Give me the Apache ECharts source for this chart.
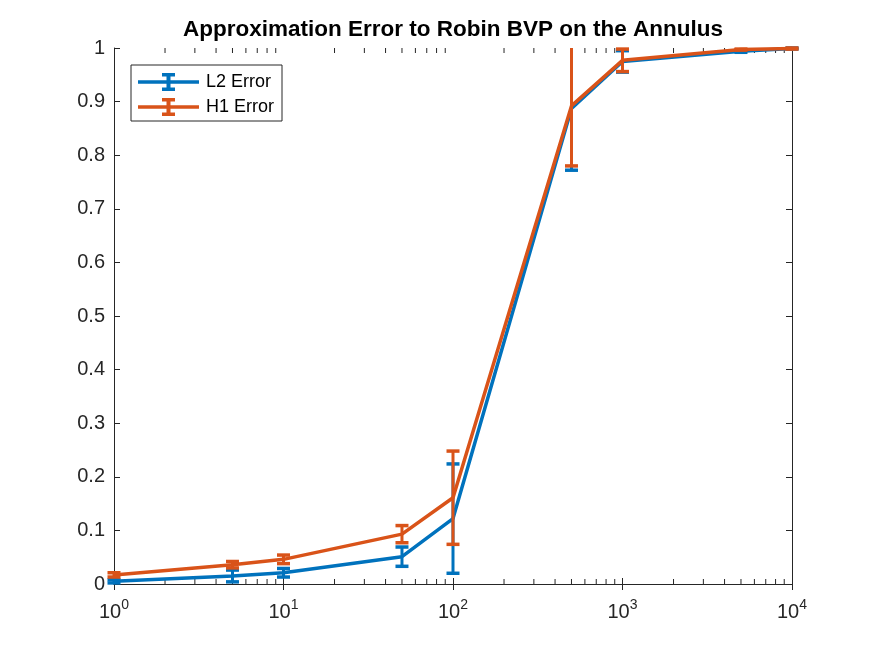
<!DOCTYPE html>
<html>
<head>
<meta charset="utf-8">
<script src="https://cdn.jsdelivr.net/npm/echarts@6/dist/echarts.min.js"></script>
<style>
  html, body { margin: 0; padding: 0; background: #fff; }
  #chart { width: 875px; height: 656px; }
</style>
</head>
<body>
<div id="chart"></div>
<script>
// 数据：Robin BVP 逼近误差（对数横轴）
const xValues = [1, 5, 10, 50, 100, 500, 1000, 5000, 10000];
const l2Mean = [0.005, 0.015, 0.021, 0.051, 0.122, 0.887, 0.975, 0.994, 0.999];
const l2Err = [0.003, 0.011, 0.008, 0.018, 0.102, 0.115, 0.020, 0.002, 0.001];
const h1Mean = [0.017, 0.036, 0.046, 0.093, 0.161, 0.892, 0.977, 0.997, 0.999];
const h1Err = [0.004, 0.006, 0.008, 0.016, 0.087, 0.112, 0.021, 0.001, 0.001];
const yTicks = [0, 0.1, 0.2, 0.3, 0.4, 0.5, 0.6, 0.7, 0.8, 0.9, 1];
const minorTicks = [2, 3, 4, 5, 6, 7, 8, 9, 20, 30, 40, 50, 60, 70, 80, 90,
  200, 300, 400, 500, 600, 700, 800, 900, 2000, 3000, 4000, 5000, 6000, 7000, 8000, 9000];

const BLUE = '#0072BD';
const ORANGE = '#D95319';
const AXIS = '#262626';
const FONT = 'Liberation Sans, Arial, Helvetica, sans-serif';

const chart = echarts.init(document.getElementById('chart'));

function errorBarItem(color) {
  return (params, api) => {
    const cs = params.coordSys;
    const x = api.value(0);
    const lo = api.coord([x, api.value(1)]);
    const hi = api.coord([x, api.value(2)]);
    const top = cs.y, bottom = cs.y + cs.height;
    const yHi = Math.max(hi[1], top);
    const yLo = Math.min(lo[1], bottom);
    const bar = { stroke: color, lineWidth: 3, fill: null };
    const cap = { stroke: color, lineWidth: 3.5, fill: null };
    const children = [
      { type: 'line', shape: { x1: lo[0], y1: yLo, x2: lo[0], y2: yHi }, style: bar },
    ];
    if (hi[1] >= top - 0.5) children.push({ type: 'line', shape: { x1: hi[0] - 6.5, y1: hi[1], x2: hi[0] + 6.5, y2: hi[1] }, style: cap });
    if (lo[1] <= bottom + 0.5) children.push({ type: 'line', shape: { x1: lo[0] - 6.5, y1: lo[1], x2: lo[0] + 6.5, y2: lo[1] }, style: cap });
    return { type: 'group', children };
  };
}

function minorTickItem(params, api) {
  const cs = params.coordSys;
  const x = api.coord([api.value(0), 0])[0];
  const top = cs.y, bottom = cs.y + cs.height;
  const style = { stroke: AXIS, lineWidth: 1 };
  return {
    type: 'group',
    children: [
      { type: 'line', shape: { x1: x, y1: bottom, x2: x, y2: bottom - 5 }, style },
      { type: 'line', shape: { x1: x, y1: top, x2: x, y2: top + 5 }, style },
    ],
  };
}

// 图例图标：横线 + 误差棒
const legendIcon = 'path://M0 7.25H61V10.75H0Z M28.5 1H32.5V17H28.5Z M24 0H37V3.5H24Z M24 14.5H37V18H24Z';

const axisLineStyle = { color: AXIS, width: 1 };

const option = {
  animation: false,
  backgroundColor: '#fff',
  title: {
    text: 'Approximation Error to Robin BVP on the Annulus',
    left: 453,
    top: 19,
    padding: 0,
    textAlign: 'center',
    textStyle: { fontFamily: FONT, fontWeight: 'bold', fontSize: 22.5, lineHeight: 22, color: '#000' },
  },
  grid: { left: 114, right: 83, top: 48, bottom: 72 },
  legend: {
    left: 131,
    top: 65,
    orient: 'vertical',
    padding: [8, 8, 5, 7],
    itemWidth: 61,
    itemHeight: 18,
    itemGap: 7,
    borderColor: AXIS,
    borderWidth: 1,
    borderRadius: 0,
    backgroundColor: '#fff',
    textStyle: { fontFamily: FONT, fontSize: 18, lineHeight: 18, color: '#000', padding: [0, 0, 0, 2] },
    data: [
      { name: 'L2 Error', icon: legendIcon },
      { name: 'H1 Error', icon: legendIcon },
    ],
  },
  xAxis: [
    {
      type: 'log',
      logBase: 10,
      min: 1,
      max: 10000,
      axisLine: { show: true, lineStyle: axisLineStyle },
      axisTick: { show: true, inside: true, length: 6, lineStyle: axisLineStyle },
      splitLine: { show: false },
      axisLabel: {
        margin: 14,
        color: AXIS,
        formatter: v => `{b|10}{s|${Math.round(Math.log10(v))}}`,
        rich: {
          b: { fontFamily: FONT, fontSize: 20, lineHeight: 28, color: AXIS },
          s: { fontFamily: FONT, fontSize: 14, lineHeight: 14, color: AXIS, verticalAlign: 'top' },
        },
      },
    },
    {
      type: 'log',
      logBase: 10,
      min: 1,
      max: 10000,
      position: 'top',
      axisLine: { show: true, lineStyle: axisLineStyle },
      axisTick: { show: true, inside: true, length: 6, lineStyle: axisLineStyle },
      axisLabel: { show: false },
      splitLine: { show: false },
    },
  ],
  yAxis: [
    {
      type: 'value',
      min: 0,
      max: 1,
      interval: 0.1,
      axisLine: { show: true, lineStyle: axisLineStyle },
      axisTick: { show: true, inside: true, length: 6, lineStyle: axisLineStyle },
      splitLine: { show: false },
      axisLabel: {
        margin: 9,
        fontFamily: FONT,
        fontSize: 20,
        color: AXIS,
        formatter: v => String(Math.round(v * 10) / 10),
      },
    },
    {
      type: 'value',
      min: 0,
      max: 1,
      interval: 0.1,
      position: 'right',
      axisLine: { show: true, lineStyle: axisLineStyle },
      axisTick: { show: true, inside: true, length: 6, lineStyle: axisLineStyle },
      axisLabel: { show: false },
      splitLine: { show: false },
    },
  ],
  series: [
    {
      name: 'minorTicks',
      type: 'custom',
      silent: true,
      clip: false,
      renderItem: minorTickItem,
      data: minorTicks.map(v => [v, 0]),
      z: 1,
    },
    {
      name: 'L2 Error',
      type: 'line',
      showSymbol: false,
      data: xValues.map((x, i) => [x, l2Mean[i]]),
      color: BLUE,
      lineStyle: { width: 3.5, color: BLUE },
      z: 2,
    },
    {
      name: 'L2 bars',
      type: 'custom',
      silent: true,
      clip: false,
      renderItem: errorBarItem(BLUE),
      data: xValues.map((x, i) => [x, l2Mean[i] - l2Err[i], l2Mean[i] + l2Err[i]]),
      z: 3,
    },
    {
      name: 'H1 Error',
      type: 'line',
      showSymbol: false,
      data: xValues.map((x, i) => [x, h1Mean[i]]),
      color: ORANGE,
      lineStyle: { width: 3.5, color: ORANGE },
      z: 4,
    },
    {
      name: 'H1 bars',
      type: 'custom',
      silent: true,
      clip: false,
      renderItem: errorBarItem(ORANGE),
      data: xValues.map((x, i) => [x, h1Mean[i] - h1Err[i], h1Mean[i] + h1Err[i]]),
      z: 5,
    },
  ],
};

chart.setOption(option);
</script>
</body>
</html>
